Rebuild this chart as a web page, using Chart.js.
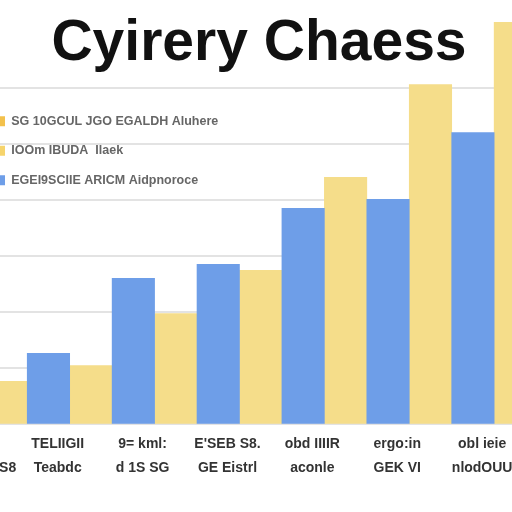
<!DOCTYPE html>
<html>
<head>
<meta charset="utf-8">
<script src="https://cdn.jsdelivr.net/npm/chart.js@4"></script>
<style>
  html, body { margin: 0; padding: 0; background: #fff; overflow: hidden; width: 512px; height: 512px; }
  /* canvas is wider than the window so the outer bars get cut off like in the picture */
  #wrap { position: absolute; left: -22px; top: 0; width: 562px; height: 512px; }
</style>
</head>
<body>
<div id="wrap"><canvas id="chart"></canvas></div>
<script>
  // data
  var xLabels = [
    ['', 'Tedaeo TSS8'],
    ['TELIIGII', 'Teabdc'],
    ['9= kml:', 'd 1S SG'],
    ["E'SEB S8.", 'GE Eistrl'],
    ['obd IIIIR', 'aconle'],
    ['ergo:in', 'GEK VI'],
    ['obl ieie', 'nlodOUU']
  ];
  var blueValues = [6, 12.7, 26.1, 28.6, 38.6, 40.2, 52.1];
  var yellowValues = [7.7, 10.5, 19.8, 27.5, 44.1, 60.7, 71.8];
  var legendLabels = ['SG 10GCUL JGO EGALDH Aluhere', 'IOOm IBUDA  Ilaek', 'EGEI9SCIIE ARICM Aidpnoroce'];
  var yTicks = [0, 10, 20, 30, 40, 50, 60];

  var blue = '#6e9ee8';
  var yellow = '#f5dd8a';
  var legendColors = ['#f3c14c', '#f6d46c', blue];

  // visible part of the category axis (first and last groups are cut)
  var xMin = -0.08, xMax = 6.54;

  Chart.defaults.font.family = "'Liberation Sans', Arial, sans-serif";

  var ctx = document.getElementById('chart').getContext('2d');
  new Chart(ctx, {
    type: 'bar',
    data: {
      datasets: [{
        label: 'blue',
        data: blueValues.map(function (v, i) { return { x: i, y: v }; }),
        backgroundColor: blue,
        borderWidth: 0,
        clip: false
      }, {
        label: 'yellow',
        data: yellowValues.map(function (v, i) { return { x: i, y: v }; }),
        backgroundColor: yellow,
        borderWidth: 0,
        clip: false
      }]
    },
    options: {
      responsive: true,
      maintainAspectRatio: false,
      animation: false,
      devicePixelRatio: 1,
      categoryPercentage: 1,
      barPercentage: 1,
      layout: { autoPadding: false, padding: { left: 0, right: 0, top: 0, bottom: 32 } },
      scales: {
        x: {
          type: 'linear',
          offset: false,
          bounds: 'data',
          min: xMin,
          max: xMax,
          afterBuildTicks: function (scale) {
            scale.min = xMin;
            scale.max = xMax;
            scale.ticks = xLabels.map(function (l, i) { return { value: i }; });
          },
          // labels may hang over the edges, do not shrink the plot for them
          afterFit: function (scale) {
            scale.paddingLeft = 0;
            scale.paddingRight = 0;
          },
          grid: { display: false, offset: false },
          border: { display: false },
          ticks: {
            autoSkip: false,
            maxRotation: 0,
            padding: 0,
            labelOffset: -12,
            color: '#333',
            font: { size: 14, weight: 'bold', lineHeight: 1.7 },
            callback: function (value) { return xLabels[value] || ''; }
          }
        },
        y: {
          min: yTicks[0],
          max: yTicks[yTicks.length - 1],
          grid: { color: '#e3e3e3', lineWidth: 2, drawTicks: false },
          border: { display: false },
          ticks: { display: false, stepSize: yTicks[1] - yTicks[0] }
        }
      },
      plugins: {
        title: {
          display: true,
          text: 'Cyirery Chaess',
          color: '#111',
          font: { size: 57, weight: 'bold', lineHeight: 1.2 },
          padding: { top: 10, bottom: 10 }
        },
        legend: {
          display: true,
          position: 'chartArea',
          align: 'start',
          // empty title only used as a spacer above the items
          title: { display: true, text: '', font: { size: 8, lineHeight: 1 }, padding: { top: 90, bottom: 0 } },
          labels: {
            boxWidth: 10,
            boxHeight: 10,
            padding: 17,
            color: '#555',
            font: { size: 12.5, weight: 'bold' },
            generateLabels: function () {
              return legendLabels.map(function (text, i) {
                return { text: text, fillStyle: legendColors[i], strokeStyle: legendColors[i], lineWidth: 0, hidden: false, index: i };
              });
            }
          }
        },
        tooltip: { enabled: false }
      }
    }
  });
</script>
</body>
</html>
